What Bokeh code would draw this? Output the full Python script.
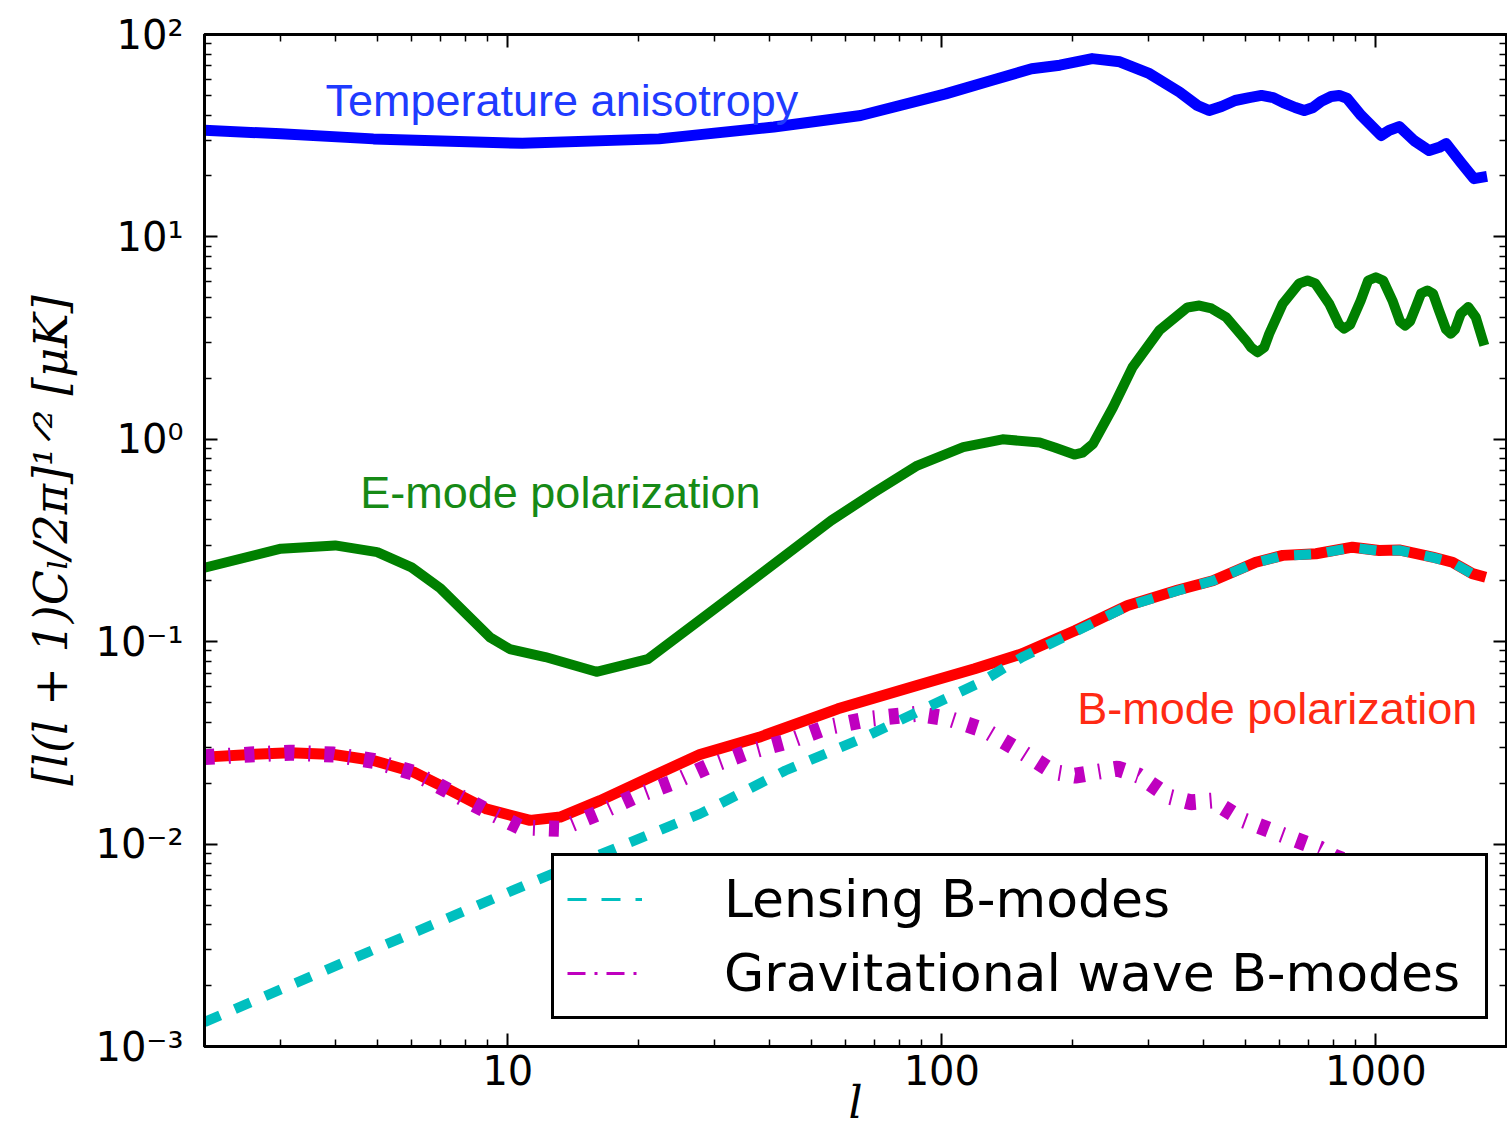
from bokeh.plotting import figure
from bokeh.models import (Range1d, FixedTicker, CustomJSTickFormatter, LogAxis, Label,
                          Legend, LegendItem)
from bokeh.embed import file_html
from bokeh.resources import INLINE

# ---------------- data ----------------
l_tt = [2, 3, 4.9, 10.8, 22.3, 41, 65, 102, 130, 161, 187, 222, 257, 301, 353, 388, 413,
        441, 474, 511, 545, 580, 612, 652, 684, 717, 748, 789, 823, 859, 925, 1028, 1073,
        1132, 1225, 1327, 1400, 1452, 1571, 1683, 1804]
tt = [33.6, 32.3, 30.5, 29.0, 30.5, 34.9, 39.8, 50.9, 59.3, 67.7, 70.5, 76.0, 73.3, 64.0,
      51.9, 44.6, 42.1, 44.1, 47.2, 48.8, 50.0, 48.8, 46.1, 43.6, 42.1, 43.6, 46.7, 49.4,
      50.0, 48.3, 39.8, 31.7, 33.6, 35.1, 29.9, 26.7, 27.7, 28.9, 23.3, 19.4, 19.9]

l_ee = [2, 3, 4, 5, 6, 7, 9.1, 10.1, 12.2, 16, 21, 30.3, 55.6, 70, 87.8, 112, 138, 168,
        182, 202, 211, 223, 248, 275, 317, 368, 392, 418, 452, 502, 516, 534, 553, 568,
        610, 666, 696, 725, 781, 823, 845, 873, 923, 960, 1000, 1039, 1092, 1137, 1168,
        1199, 1236, 1271, 1314, 1354, 1398, 1451, 1488, 1522, 1569, 1633, 1699, 1778]
ee = [0.232, 0.288, 0.299, 0.277, 0.233, 0.183, 0.105, 0.092, 0.084, 0.071, 0.082, 0.148,
      0.397, 0.548, 0.742, 0.914, 1.0, 0.964, 0.911, 0.841, 0.86, 0.95, 1.44, 2.27, 3.45,
      4.48, 4.58, 4.43, 4.01, 3.08, 2.84, 2.69, 2.84, 3.32, 4.67, 5.89, 6.09, 5.89, 4.67,
      3.69, 3.52, 3.69, 4.85, 6.09, 6.32, 6.09, 4.85, 3.82, 3.65, 3.82, 4.50, 5.25, 5.44,
      5.25, 4.33, 3.49, 3.32, 3.49, 4.17, 4.50, 4.01, 2.91]

l_bb = [2, 2.55, 3.15, 3.97, 4.9, 6.06, 7.24, 8.94, 11.25, 13.2, 16.3, 21.3, 27.7, 37.9,
        57.6, 87.6, 119, 153, 203, 268, 350, 421, 529, 610, 728, 883, 1018, 1131, 1350,
        1501, 1669, 1791]
bb = [0.0269, 0.0277, 0.0283, 0.0277, 0.0259, 0.0227, 0.0188, 0.0149, 0.0131, 0.0136,
      0.0164, 0.0214, 0.0277, 0.0337, 0.0466, 0.0608, 0.0735, 0.0871, 0.1136, 0.151, 0.18,
      0.2, 0.247, 0.267, 0.272, 0.293, 0.282, 0.284, 0.262, 0.247, 0.217, 0.208]

l_lens = [2, 4.75, 11.6, 27.7, 43.6, 66.3, 92.7, 123, 153, 203, 268, 350, 421, 529, 610,
          728, 883, 1018, 1131, 1350, 1501, 1669, 1791]
lens = [0.00132, 0.00292, 0.0066, 0.0141, 0.0231, 0.0337, 0.0475, 0.0631, 0.0838, 0.112,
        0.150, 0.179, 0.2, 0.246, 0.266, 0.271, 0.292, 0.281, 0.283, 0.261, 0.246, 0.216,
        0.207]

l_gw = [2, 2.55, 3.15, 3.97, 4.9, 6.06, 7.24, 8.94, 10.7, 13.2, 16, 19.5, 24, 28.7, 35.8,
        44.8, 54.5, 68.2, 87.6, 104, 126, 153, 181, 203, 227, 254, 284, 335, 375, 419, 496,
        603, 743, 808, 1131, 1470]
gw = [0.0269, 0.0277, 0.0283, 0.0277, 0.0258, 0.0225, 0.0185, 0.0146, 0.0121, 0.0119,
      0.0141, 0.0171, 0.0202, 0.024, 0.0285, 0.0325, 0.0378, 0.0416, 0.044, 0.0416, 0.0364,
      0.0285, 0.0227, 0.0218, 0.0227, 0.0236, 0.0218, 0.0171, 0.0161, 0.0164, 0.0131,
      0.0112, 0.0095, 0.0086, 0.0066, 0.005]

x_major = [10, 100, 1000]
x_minor = [k * 10 ** n for n in range(0, 3) for k in range(2, 10)] + [2000]
y_major = [1e-3, 1e-2, 1e-1, 1, 10, 100]
y_minor = [k * 10.0 ** n for n in range(-3, 2) for k in range(2, 10)]

labels = ["Temperature anisotropy", "E-mode polarization", "B-mode polarization"]
legend_labels = ["Lensing B-modes", "Gravitational wave B-modes"]

BLUE, GREEN, RED, CYAN, MAG = "#0000ff", "#008000", "#ff0000", "#00bfbf", "#bf00bf"

# ---------------- figure ----------------
p = figure(width=1507, height=1140, x_axis_type="log", y_axis_type="log",
           x_range=Range1d(2, 2000), y_range=Range1d(1e-3, 1e2),
           output_backend="svg", toolbar_location=None,
           min_border_left=204, min_border_right=1, min_border_top=34,
           min_border_bottom=94)
p.grid.visible = False
p.outline_line_color = "black"
p.outline_line_width = 3
p.background_fill_color = "white"
p.border_fill_color = "white"

sup_js = """
const e = Math.round(Math.log10(tick));
const m = {"-":"\u207b","0":"\u2070","1":"\u00b9","2":"\u00b2","3":"\u00b3","4":"\u2074",
           "5":"\u2075","6":"\u2076","7":"\u2077","8":"\u2078","9":"\u2079"};
return "10" + String(e).split("").map(c => m[c]).join("");
"""


def style(ax, ticks, minor):
    ax.ticker = FixedTicker(ticks=ticks, minor_ticks=minor)
    ax.axis_line_width = 3
    ax.axis_line_color = "black"
    ax.major_tick_in = 13
    ax.major_tick_out = 0
    ax.minor_tick_in = 7
    ax.minor_tick_out = 0
    ax.major_tick_line_width = 2
    ax.minor_tick_line_width = 1.5
    ax.major_tick_line_color = "black"
    ax.minor_tick_line_color = "black"
    ax.major_label_text_font = "DejaVu Sans"
    ax.major_label_text_font_size = "40px"
    ax.major_label_text_color = "black"


xa = p.xaxis[0]
style(xa, x_major, x_minor)
xa.formatter = CustomJSTickFormatter(code="return String(Math.round(tick));")
xa.major_label_standoff = 8
xa.axis_label = "l"
xa.axis_label_text_font = "DejaVu Serif"
xa.axis_label_text_font_style = "italic"
xa.axis_label_text_font_size = "44px"
xa.axis_label_text_color = "black"
xa.axis_label_standoff = -11

ya = p.yaxis[0]
style(ya, y_major, y_minor)
ya.formatter = CustomJSTickFormatter(code=sup_js)
ya.major_label_standoff = 21
ya.axis_label = "[l(l + 1)C\u2097/2\u03c0]\u00b9\u141f\u00b2 [\u03bcK]"
ya.axis_label_text_font = "DejaVu Serif"
ya.axis_label_text_font_style = "italic"
ya.axis_label_text_font_size = "46px"
ya.axis_label_text_color = "black"
ya.axis_label_standoff = 14

blank = CustomJSTickFormatter(code='return "";')
top = LogAxis()
style(top, x_major, x_minor)
top.formatter = blank
top.major_label_standoff = 0
top.major_label_text_font_size = "1px"
p.add_layout(top, "above")

right = LogAxis()
style(right, y_major, y_minor)
right.formatter = blank
right.major_label_standoff = 0
right.major_label_text_font_size = "1px"
p.add_layout(right, "right")

# ---------------- curves ----------------
p.line(l_ee, ee, line_color=GREEN, line_width=10, line_join="round")
p.line(l_tt, tt, line_color=BLUE, line_width=11, line_join="round")
p.line(l_bb, bb, line_color=RED, line_width=11, line_join="round")
p.line(l_gw, gw, line_color=MAG, line_width=16, line_dash="10 14 2 14")
p.line(l_lens, lens, line_color=CYAN, line_width=10, line_dash="17 16")

# ---------------- annotations ----------------
p.add_layout(Label(x=3.80, y=47.2, text=labels[0], text_font="Liberation Sans",
                   text_font_size="45px", text_color="#1f3bff",
                   text_baseline="alphabetic", text_align="left"))
p.add_layout(Label(x=4.57, y=0.546, text=labels[1], text_font="Liberation Sans",
                   text_font_size="45px", text_color="#168a16",
                   text_baseline="alphabetic", text_align="left"))
p.add_layout(Label(x=205, y=0.0466, text=labels[2], text_font="Liberation Sans",
                   text_font_size="45px", text_color="#ff2a14",
                   text_baseline="alphabetic", text_align="left"))

# ---------------- legend (thin proxy lines, drawn off-frame) ----------------
leg_lens = p.line([1e-6, 2e-6], [1e-9, 1e-9], line_color=CYAN, line_width=3,
                  line_dash="19 15")
leg_gw = p.line([1e-6, 2e-6], [1e-9, 1e-9], line_color=MAG, line_width=3,
                line_dash="18 9 3 9")
legend = Legend(items=[LegendItem(label=legend_labels[0], renderers=[leg_lens]),
                       LegendItem(label=legend_labels[1], renderers=[leg_gw])],
                location=(347, 27), label_text_font="DejaVu Sans",
                label_text_font_size="52px", label_text_color="black",
                glyph_width=75, glyph_height=20, label_standoff=82, label_width=748,
                padding=13, spacing=14, margin=0, border_line_color="black",
                border_line_width=3, border_line_alpha=1.0,
                background_fill_color="white", background_fill_alpha=1.0)
p.add_layout(legend)

with open("out.html", "w", encoding="utf-8") as f:
    f.write(file_html(p, INLINE))
